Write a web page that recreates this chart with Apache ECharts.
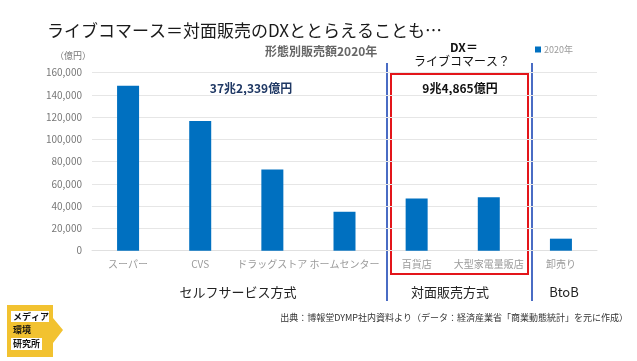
<!DOCTYPE html>
<html><head><meta charset="utf-8">
<script src="https://cdn.jsdelivr.net/npm/echarts@6/dist/echarts.min.js"></script>
<style>html,body{margin:0;padding:0;background:#fff}#c{width:637px;height:361px}</style>
</head><body><div id="c"></div>
<script>
const categories = ['スーパー','CVS','ドラッグストア','ホームセンター','百貨店','大型家電量販店','卸売り'];
const sales2020 = [148112, 116423, 72841, 34963, 46938, 47927, 10800];
const yTicks = [0,20000,40000,60000,80000,100000,120000,140000,160000];
const seriesName = '2020年';
const FONT = '"Noto Sans CJK JP","Noto Sans",sans-serif';

const chart = echarts.init(document.getElementById('c'), null, {renderer:'canvas'});
chart.setOption({
  animation:false,
  backgroundColor:'#fff',
  textStyle:{fontFamily:FONT},
  grid:{left:92,right:40,top:72.5,bottom:110.3},
  legend:{data:[seriesName],left:530,top:40,itemWidth:6,itemHeight:6,icon:'rect',itemGap:3,
    textStyle:{color:'#999',fontSize:9,fontFamily:FONT,padding:[0,0,0,-2]}},
  xAxis:{type:'category',data:categories,
    axisLine:{lineStyle:{color:'#e0e0e0'}},axisTick:{show:false},
    axisLabel:{color:'#9a9a9a',fontSize:10,margin:9,interval:0,fontFamily:FONT}},
  yAxis:{type:'value',min:yTicks[0],max:yTicks[yTicks.length-1],interval:20000,
    axisLine:{show:false},axisTick:{show:false},
    splitLine:{lineStyle:{color:'#e6e6e6'}},
    axisLabel:{color:'#777',fontSize:10,margin:10,fontFamily:FONT,
      formatter:v=>v.toLocaleString('en-US')}},
  series:[{name:seriesName,type:'bar',data:sales2020,barWidth:22,itemStyle:{color:'#0070c0'}}],
  graphic:[
    {type:'text',x:47,y:31,style:{text:'ライブコマース＝対面販売のDXととらえることも…',fill:'#1a1a1a',font:'17px '+FONT,verticalAlign:'middle'}},
    {type:'text',left:265,top:45,style:{text:'形態別販売額2020年',fill:'#666',font:'bold 12px '+FONT}},
    {type:'text',left:55,top:51,style:{text:'（億円）',fill:'#777',font:'9px '+FONT}},
    {type:'text',x:251,y:88,style:{text:'37兆2,339億円',fill:'#1f3864',font:'bold 12px '+FONT,align:'center',verticalAlign:'middle'}},
    {type:'text',x:460,y:88,style:{text:'9兆4,865億円',fill:'#111',font:'bold 12px '+FONT,align:'center',verticalAlign:'middle'}},
    {type:'text',x:464,y:47,style:{text:'DX＝',fill:'#111',font:'bold 12px '+FONT,align:'center',verticalAlign:'middle'}},
    {type:'text',x:462,y:61,style:{text:'ライブコマース？',fill:'#111',font:'12px '+FONT,align:'center',verticalAlign:'middle'}},
    {type:'rect',shape:{x:391,y:74,width:137,height:200},style:{fill:'none',stroke:'#e3151a',lineWidth:2}},
    {type:'line',shape:{x1:387,y1:63,x2:387,y2:301},style:{stroke:'#4a6cc4',lineWidth:2}},
    {type:'line',shape:{x1:532,y1:63,x2:532,y2:301},style:{stroke:'#4a6cc4',lineWidth:2}},
    {type:'text',x:238,y:292,style:{text:'セルフサービス方式',fill:'#222',font:'13px '+FONT,align:'center',verticalAlign:'middle'}},
    {type:'text',x:450,y:292,style:{text:'対面販売方式',fill:'#222',font:'13px '+FONT,align:'center',verticalAlign:'middle'}},
    {type:'text',x:564,y:292,style:{text:'BtoB',fill:'#222',font:'13px '+FONT,align:'center',verticalAlign:'middle'}},
    {type:'text',x:628,y:318,style:{text:'出典：博報堂DYMP社内資料より（データ：経済産業省「商業動態統計」を元に作成）',fill:'#333',font:'9px '+FONT,align:'right',verticalAlign:'middle'}},
    // logo
    {type:'polygon',shape:{points:[[7,305],[53,305],[53,318],[63,330],[53,343],[53,357],[7,357]]},style:{fill:'#f2c230'}},
    {type:'rect',shape:{x:11,y:311,width:38,height:11},style:{fill:'#fff'}},
    {type:'rect',shape:{x:11,y:338,width:31,height:12},style:{fill:'#fff'}},
    {type:'text',x:13,y:316.5,style:{text:'メディア',fill:'#111',font:'bold 9px '+FONT,verticalAlign:'middle'}},
    {type:'text',x:13,y:330,style:{text:'環境',fill:'#111',font:'bold 9px '+FONT,verticalAlign:'middle'}},
    {type:'text',x:13,y:344,style:{text:'研究所',fill:'#111',font:'bold 9px '+FONT,verticalAlign:'middle'}}
  ]
});
</script></body></html>
